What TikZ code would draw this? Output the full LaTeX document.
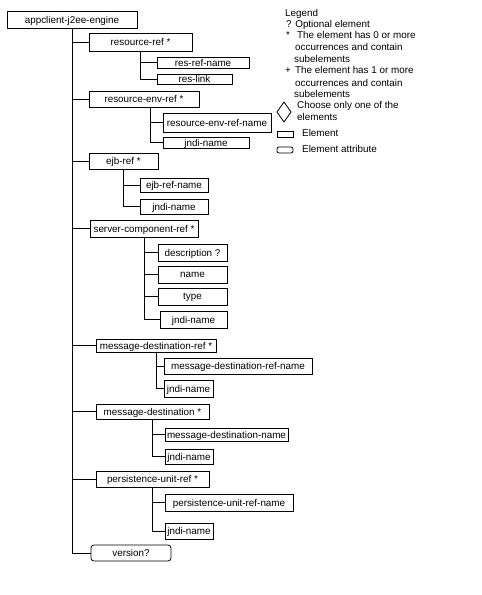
\documentclass[tikz,border=0pt]{standalone}
\usepackage{fontspec}
\setmainfont{Liberation Sans}
\tikzset{
  elem/.style={draw, line width=0.8pt, inner sep=0pt, text depth=0pt, font=\fontsize{9.9}{11}\selectfont},
  attr/.style={elem, rounded corners=3bp},
  conn/.style={line width=0.8pt},
  legtext/.style={inner sep=0pt, anchor=base west, font=\fontsize{9.9}{11}\selectfont},
}
\newcommand\ebox[7][elem]{%
  \node[#1, minimum width={(#5-#3)*1bp}, minimum height={(#6-#4)*1bp}] (#2) at ({(#3+#5)/2},{(#4+#6)/2}) {#7};}
\begin{document}
\begin{tikzpicture}[x=1bp,y=-1bp]
\useasboundingbox[fill=white] (0,0) rectangle (482,595);
% boxes
\ebox{root}{7}{11}{137}{28}{appclient-j2ee-engine}
\ebox{rr}{89}{33}{192}{51}{resource-ref *}
\ebox{rrn}{157}{57}{249}{68}{res-ref-name}
\ebox{rl}{157}{74}{232}{84}{res-link}
\ebox{rer}{89}{91}{199}{107}{resource-env-ref *}
\ebox{rern}{163}{113}{271}{132}{resource-env-ref-name}
\ebox{rerj}{163}{137}{249}{148}{jndi-name}
\ebox{ejb}{89}{153}{158}{169}{ejb-ref *}
\ebox{ejbn}{140}{178}{208}{192}{ejb-ref-name}
\ebox{ejbj}{140}{199}{208}{214}{jndi-name}
\ebox{scr}{90}{220}{198}{237}{server-component-ref *}
\ebox{scrd}{158}{244}{227}{261}{description ?}
\ebox{scrn}{158}{266}{227}{283}{name}
\ebox{scrt}{158}{288}{227}{305}{type}
\ebox{scrj}{160}{311}{227}{328}{jndi-name}
\ebox{mdr}{96}{339}{216}{352}{message-destination-ref *}
\ebox{mdrn}{164}{358}{312}{374}{message-destination-ref-name}
\ebox{mdrj}{164}{380}{213}{397}{jndi-name}
\ebox{md}{96}{404}{209}{419}{message-destination *}
\ebox{mdn}{165}{428}{288}{441}{message-destination-name}
\ebox{mdj}{165}{449}{213}{464}{jndi-name}
\ebox{pur}{96}{471}{209}{487}{persistence-unit-ref *}
\ebox{purn}{165}{494}{293}{511}{persistence-unit-ref-name}
\ebox{purj}{165}{523}{213}{539}{jndi-name}
\ebox[attr]{ver}{91}{545}{171}{561}{version?}
% trunk connectors
\foreach \c in {rr,rer,ejb,scr,mdr,md,pur,ver}
  \draw[conn] (root.south) |- (\c.west);
% sub connectors
\foreach \p/\c in {rr/rrn,rr/rl,ejb/ejbn,ejb/ejbj,scr/scrd,scr/scrn,scr/scrt,scr/scrj,mdr/mdrn,mdr/mdrj,md/mdn,md/mdj,pur/purn,pur/purj}
  \draw[conn] (\p.south) |- (\c.west);
\draw[conn] ([xshift=6bp]rer.south) |- (rern.west);
\draw[conn] ([xshift=6bp]rer.south) |- (rerj.west);
% legend
\node[legtext] (lg) at (285,17) {Legend};
\node[legtext] (lq) at (286,28) {? Optional element};
\node[legtext] (ls) at (286,39) {*};
\node[legtext] (ls1) at (297,39) {The element has 0 or more};
\node[legtext] (ls2) at (295,51) {occurrences and contain};
\node[legtext] (ls3) at (294,63) {subelements};
\node[legtext] (lp) at (285,74) {+};
\node[legtext] (lp1) at (295,74) {The element has 1 or more};
\node[legtext] (lp2) at (295,87) {occurrences and contain};
\node[legtext] (lp3) at (294,98) {subelements};
\draw[conn] (284,102) -- (291,112) -- (284,122) -- (277,112) -- cycle;
\node[legtext] (lc1) at (297,109) {Choose only one of the};
\node[legtext] (lc2) at (297,121) {elements};
\draw[conn] (277,131) rectangle (293,137);
\node[legtext] (le) at (302,137) {Element};
\draw[conn, rounded corners=2bp] (277,147) rectangle (293,153);
\node[legtext] (la) at (302,153) {Element attribute};
\end{tikzpicture}
\end{document}
